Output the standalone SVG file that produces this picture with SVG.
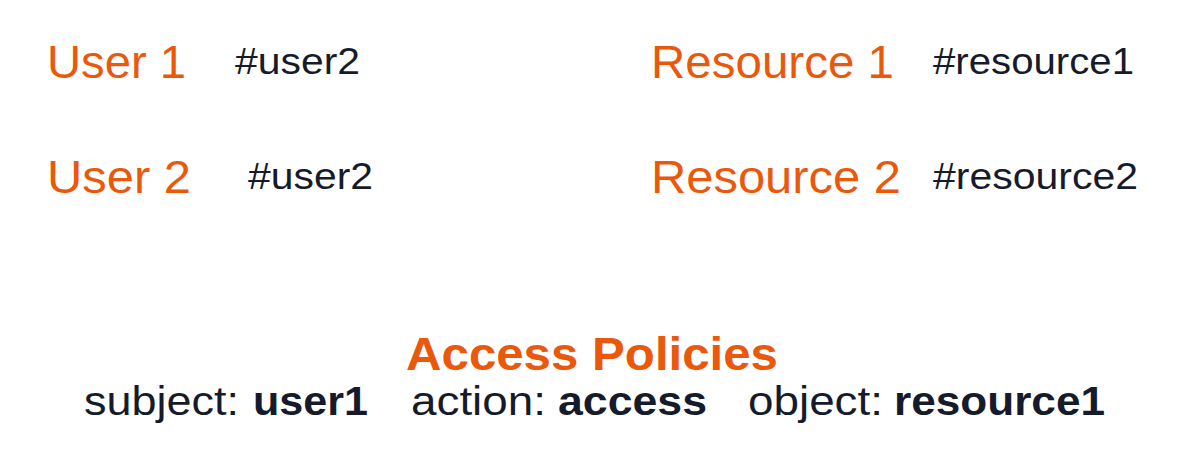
<svg xmlns="http://www.w3.org/2000/svg" width="1197" height="468" viewBox="0 0 1197 468">
<style>
.t{font-family:"Liberation Sans",Arial,Helvetica,sans-serif;}
.big{font-size:47px;fill:#EA580C;}
.id{font-size:37px;fill:#161B2C;}
.title{font-size:46px;font-weight:bold;fill:#EA580C;}
.pol{font-size:40px;fill:#161B2C;}
.b{font-weight:bold;}
</style>
<rect width="1197" height="468" fill="#ffffff"/>
<g id="user1">
<text class="t big" x="47" y="78" textLength="139" lengthAdjust="spacingAndGlyphs">User 1</text>
<text class="t id" x="235" y="74" textLength="125" lengthAdjust="spacingAndGlyphs">#user2</text>
</g>
<g id="user2">
<text class="t big" x="47" y="193" textLength="144" lengthAdjust="spacingAndGlyphs">User 2</text>
<text class="t id" x="248" y="189" textLength="125" lengthAdjust="spacingAndGlyphs">#user2</text>
</g>
<g id="resource1">
<text class="t big" x="651" y="78" textLength="243" lengthAdjust="spacingAndGlyphs">Resource 1</text>
<text class="t id" x="933" y="74" textLength="201" lengthAdjust="spacingAndGlyphs">#resource1</text>
</g>
<g id="resource2">
<text class="t big" x="651" y="193" textLength="250" lengthAdjust="spacingAndGlyphs">Resource 2</text>
<text class="t id" x="933" y="189" textLength="205" lengthAdjust="spacingAndGlyphs">#resource2</text>
</g>
<g id="policies">
<text class="t title" x="406" y="370" textLength="372" lengthAdjust="spacingAndGlyphs">Access Policies</text>
<text class="t pol" x="84" y="415"><tspan textLength="155" lengthAdjust="spacingAndGlyphs">subject:</tspan> <tspan class="b" x="253" textLength="115" lengthAdjust="spacingAndGlyphs">user1</tspan></text>
<text class="t pol" x="411" y="415"><tspan textLength="135" lengthAdjust="spacingAndGlyphs">action:</tspan> <tspan class="b" x="558" textLength="149" lengthAdjust="spacingAndGlyphs">access</tspan></text>
<text class="t pol" x="748" y="415"><tspan textLength="135" lengthAdjust="spacingAndGlyphs">object:</tspan> <tspan class="b" x="894" textLength="211" lengthAdjust="spacingAndGlyphs">resource1</tspan></text>
</g>
<g id="connectors"></g>
</svg>
